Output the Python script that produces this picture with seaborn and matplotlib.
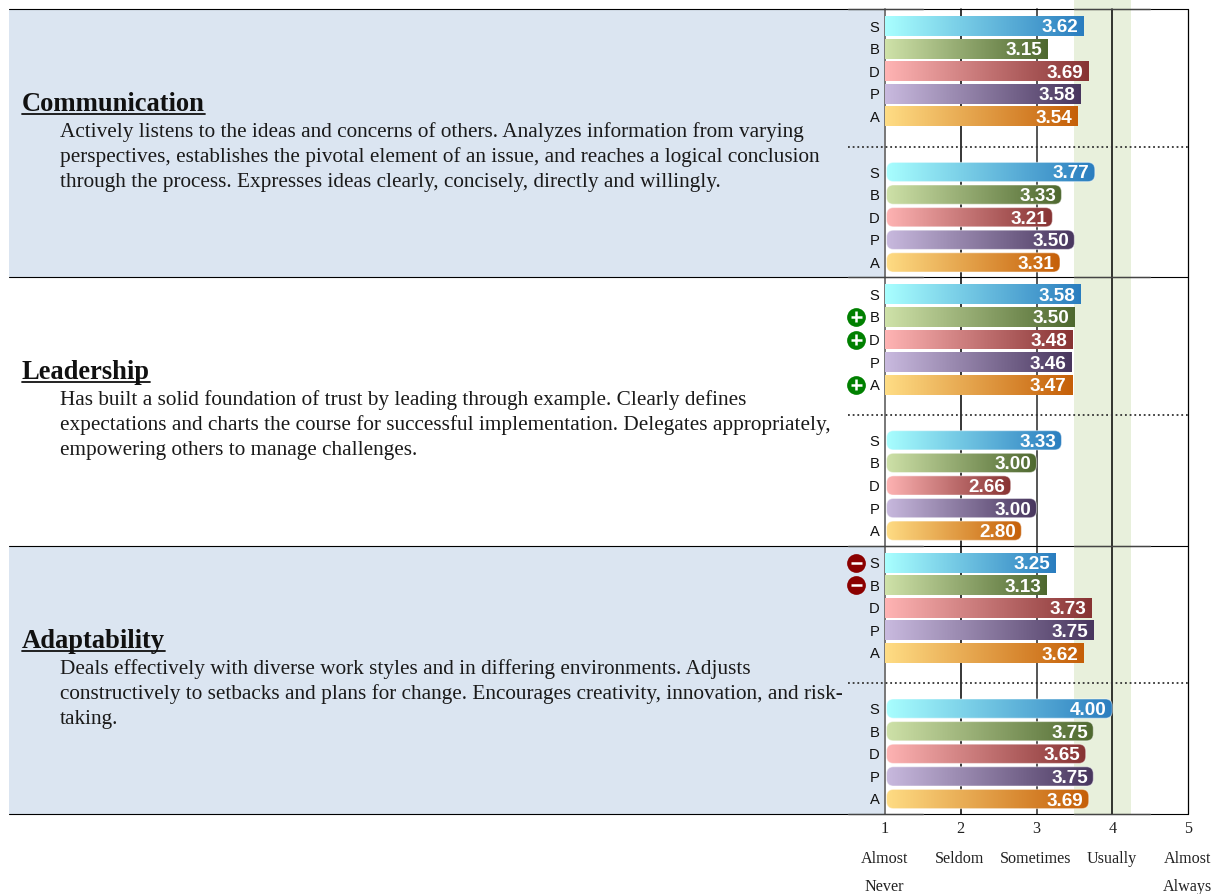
# -*- coding: utf-8 -*-
# competency ratings: two groups of S/B/D/P/A bars per competency
import numpy as np
import pandas as pd
import matplotlib
matplotlib.use('Agg')
import matplotlib.pyplot as plt
from matplotlib.colors import LinearSegmentedColormap
from matplotlib.patches import FancyBboxPatch, Rectangle
import seaborn as sns

letters = ['S', 'B', 'D', 'P', 'A']
titles = ['Communication', 'Leadership', 'Adaptability']
descriptions = [
    ['Actively listens to the ideas and concerns of others. Analyzes information from varying',
     'perspectives, establishes the pivotal element of an issue, and reaches a logical conclusion',
     'through the process. Expresses ideas clearly, concisely, directly and willingly.'],
    ['Has built a solid foundation of trust by leading through example. Clearly defines',
     'expectations and charts the course for successful implementation. Delegates appropriately,',
     'empowering others to manage challenges.'],
    ['Deals effectively with diverse work styles and in differing environments. Adjusts',
     'constructively to setbacks and plans for change. Encourages creativity, innovation, and risk-',
     'taking.'],
]
square_values = [[3.62, 3.15, 3.69, 3.58, 3.54],
                 [3.58, 3.50, 3.48, 3.46, 3.47],
                 [3.25, 3.13, 3.73, 3.75, 3.62]]
round_values = [[3.77, 3.33, 3.21, 3.50, 3.31],
                [3.33, 3.00, 2.66, 3.00, 2.80],
                [4.00, 3.75, 3.65, 3.75, 3.69]]
# +1 / -1 flag next to a bar of the top group
flags = [[0, 0, 0, 0, 0],
         [0, 1, 1, 0, 1],
         [-1, -1, 0, 0, 0]]
scale_ticks = [1, 2, 3, 4, 5]
scale_labels = ['Almost\nNever', 'Seldom', 'Sometimes', 'Usually', 'Almost\nAlways']
band_range = [3.5, 4.25]

gradients = {'S': ('#a9ffff', '#2a7dbf'), 'B': ('#cfe2a9', '#4e682f'),
             'D': ('#ffb4b4', '#873333'), 'P': ('#c9badf', '#48365e'),
             'A': ('#ffdd85', '#c55f08')}

W, H = 1213, 894
LEFT, RIGHT, BOTTOM = 885, 1188, 814
PANEL_H = 268.3
PX_PER_UNIT = (RIGHT - LEFT) / 4
SERIF = 'Liberation Serif'
SANS = 'Liberation Sans'

sns.set_theme(style='white')
plt.rcParams['font.family'] = SANS

# build table, y is in pixels from the top of the picture
rows = []
for p in range(3):
    for i, letter in enumerate(letters):
        rows.append({'pos': 26 + p * PANEL_H + i * 22.6, 'value': square_values[p][i],
                     'letter': letter, 'shape': 'square', 'flag': flags[p][i]})
    for i, letter in enumerate(letters):
        rows.append({'pos': 172 + p * PANEL_H + i * 22.6, 'value': round_values[p][i],
                     'letter': letter, 'shape': 'round', 'flag': 0})
df = pd.DataFrame(rows)

fig = plt.figure(figsize=(W / 100, H / 100), dpi=100)

# background layer for panels, text and flags
bg = fig.add_axes([0, 0, 1, 1])
bg.set_xlim(0, W)
bg.set_ylim(H, 0)
bg.axis('off')

for p in range(3):
    top = 9 + p * PANEL_H
    if p != 1:
        bg.add_patch(Rectangle((9, top), LEFT - 9, PANEL_H, fc='#dbe5f1', ec='none'))
    title = bg.text(22, top + 102, titles[p], family=SERIF, fontsize=19.1, fontweight='bold',
                    color='#111111', va='baseline')
    fig.canvas.draw()
    ext = title.get_window_extent()
    bg.plot([ext.x0, ext.x1], [top + 105, top + 105], color='#111111', lw=1.3)
    for j, line in enumerate(descriptions[p]):
        bg.text(60, top + 128 + j * 25, line, family=SERIF, fontsize=15.35,
                color='#1a1a1a', va='baseline')

# chart layer
ax = fig.add_axes([LEFT / W, (H - BOTTOM) / H, (RIGHT - LEFT) / W, BOTTOM / H])
ax.patch.set_alpha(0)
sns.barplot(data=df, x='value', y='pos', hue='letter', hue_order=letters, orient='y',
            native_scale=True, dodge=False, width=0.88, legend=False, ax=ax, zorder=2)

ax.axvspan(band_range[0], band_range[1], color='#e8f0dc', lw=0, zorder=0)
line_colors = ['#777777', 'black', '#555555', 'black', 'black']
line_widths = [1.4, 1.1, 1.4, 1.1, 0.9]
for t, c, lw in zip(scale_ticks, line_colors, line_widths):
    ax.plot([t, t], [9, BOTTOM], color=c, lw=lw, zorder=1, clip_on=False)

# gradient fill on top of each seaborn bar
for container, letter in zip(ax.containers, letters):
    cmap = LinearSegmentedColormap.from_list(letter, gradients[letter])
    sub = df[df['letter'] == letter].sort_values('pos')
    for patch, shape in zip(container, sub['shape']):
        val = patch.get_width()
        y0, h = patch.get_y(), patch.get_height()
        patch.set_visible(False)
        extent = (1, val, y0 + h, y0)
        if shape == 'square':
            clip = Rectangle((1, y0), val - 1, h, fc='none', ec='none', zorder=3)
        else:
            clip = FancyBboxPatch((1.02, y0 + 0.3), val - 1.02, h - 0.6,
                                  boxstyle='round,pad=0,rounding_size=%f' % (7 / PX_PER_UNIT),
                                  mutation_aspect=PX_PER_UNIT, fc='none',
                                  ec=(1, 1, 1, 0.45), lw=0.8, zorder=3)
        ax.add_patch(clip)
        im = ax.imshow(np.linspace(0, 1, 256).reshape(1, -1), cmap=cmap, extent=extent,
                       aspect='auto', zorder=2.5, interpolation='bilinear')
        im.set_clip_path(clip)
        ax.text(val - 5.5 / PX_PER_UNIT, y0 + h / 2, '%.2f' % val, color='white',
                family=SANS, fontweight='bold', fontsize=13.6, ha='right', va='center_baseline',
                zorder=4)

ax.set_xlim(1, 5)
ax.set_ylim(BOTTOM, 0)
for s in ax.spines.values():
    s.set_visible(False)
ax.set_xlabel('')
ax.set_ylabel('')
ax.set_yticks(df['pos'])
ax.set_yticklabels(df['letter'], family=SANS, fontsize=10.6, color='#111111', va='center_baseline')
ax.set_xticks(scale_ticks)
ax.set_xticklabels([str(t) for t in scale_ticks], family=SERIF, fontsize=11.6, color='#222222')
ax.tick_params(axis='y', length=0, pad=4)
ax.tick_params(axis='x', length=0, pad=5)
ax.grid(False)

for t, lab in zip(scale_ticks, scale_labels):
    for k, part in enumerate(lab.split('\n')):
        ax.text(t - 0.01, 863 + k * 28, part, family=SERIF, fontsize=11.6, color='#222222',
                ha='center', va='baseline', clip_on=False)

# separators, with the greyer stretches of the rule over them
x_left = 1 - (LEFT - 9) / PX_PER_UNIT
x_dot = 1 - (LEFT - 848) / PX_PER_UNIT
for p in range(4):
    y = 9 + p * PANEL_H
    ax.plot([x_left, 5], [y, y], color='black', lw=0.8, zorder=5, clip_on=False)
    ax.plot([x_dot, 1.5], [y, y], color='#444444', lw=1.0, zorder=5, clip_on=False)
    ax.plot([3.5, 4.5], [y, y], color='#444444', lw=1.0, zorder=5, clip_on=False)
for p in range(3):
    y = 146.5 + p * PANEL_H
    ax.plot([x_dot, 5], [y, y], color='#333333', lw=1.3, ls=(0, (1, 1.6)), zorder=5, clip_on=False)

# plus / minus flags
for _, r in df[df['flag'] != 0].iterrows():
    col = '#008000' if r['flag'] > 0 else '#8b0000'
    bg.plot(856, r['pos'], 'o', ms=13.5, color=col, mec='none')
    bg.plot([850.5, 861.5], [r['pos'], r['pos']], color='white', lw=1.8, solid_capstyle='butt')
    if r['flag'] > 0:
        bg.plot([856, 856], [r['pos'] - 5.5, r['pos'] + 5.5], color='white', lw=1.8,
                solid_capstyle='butt')
bg.set_xlim(0, W)
bg.set_ylim(H, 0)

fig.savefig('out.png', dpi=100)
